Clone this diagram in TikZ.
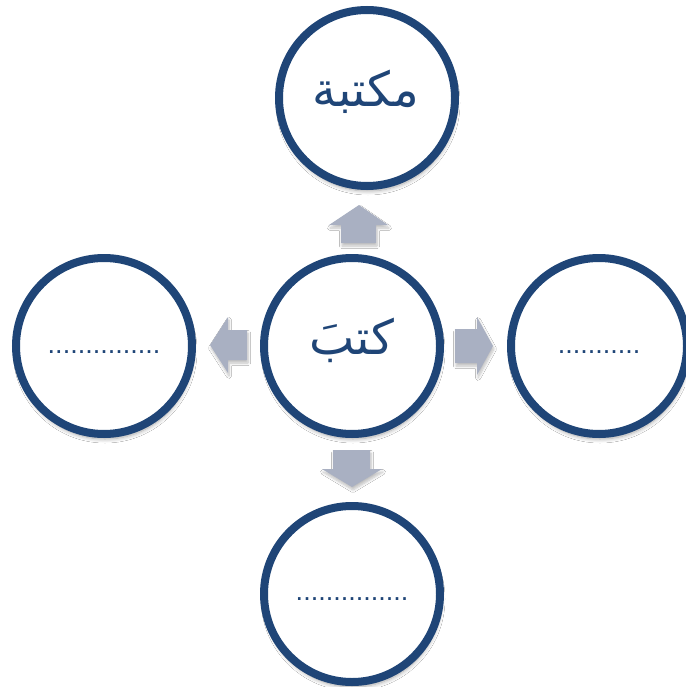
\documentclass[tikz,border=0pt]{standalone}
\usepackage{fontspec}
\setmainfont{Liberation Sans}
\TeXXeTstate=1
\newfontfamily\arabicfont[Script=Arabic]{DejaVu Sans}
\usetikzlibrary{shadows.blur}
\definecolor{ringblue}{HTML}{1F4577}
\definecolor{arrowgray}{HTML}{A9B0C2}
\tikzset{
  ring/.style={circle, draw=ringblue, line width=8pt, fill=white, minimum size=176pt, inner sep=0pt,
    blur shadow={shadow xshift=1pt, shadow yshift=-5pt, shadow blur radius=4pt, shadow blur steps=10, shadow opacity=35}},
  blockarrow/.style={fill=arrowgray, draw=none,
    blur shadow={shadow xshift=1pt, shadow yshift=-3pt, shadow blur radius=2.5pt, shadow blur steps=6, shadow opacity=25}},
  arabictext/.style={text=ringblue, font=\arabicfont\fontsize{48}{56}\selectfont, inner sep=0pt},
  dotstext/.style={text=ringblue, font=\fontsize{27}{30}\selectfont, inner sep=0pt, anchor=base},
}
\begin{document}
\begin{tikzpicture}[x=1pt, y=-1pt]
\useasboundingbox (0,0) rectangle (685,687);
\fill[white] (0,0) rectangle (685,687);
% circles
\node[ring] (top) at (367,98) {};
\node[ring] (center) at (352,346) {};
\node[ring] (left) at (104,346) {};
\node[ring] (right) at (599,346) {};
\node[ring] (bottom) at (352,594) {};
% block arrows
\fill[blockarrow] (341,243) -- (341,225) -- (329,225) -- (359,205) -- (388,225) -- (376,225) -- (376,243) -- cycle;
\fill[blockarrow] (247,330) -- (228,330) -- (228,317) -- (210,345) -- (228,373) -- (228,360) -- (247,360) -- cycle;
\fill[blockarrow] (455,329) -- (477,329) -- (477,317) -- (493,346) -- (477,375) -- (477,363) -- (455,363) -- cycle;
\fill[blockarrow] (333,450) -- (370,450) -- (370,469) -- (382,469) -- (352,487) -- (322,469) -- (333,469) -- cycle;
% texts
\node[arabictext] (toptext) at (366,92) {\beginR مكتبة\endR};
\node[arabictext] (centertext) at (352,340) {\beginR كتبَ\endR};
\node[dotstext] (leftdots) at (104,353.5) {...............};
\node[dotstext] (rightdots) at (599,353.5) {...........};
\node[dotstext] (bottomdots) at (352,600.5) {...............};
\end{tikzpicture}
\end{document}
